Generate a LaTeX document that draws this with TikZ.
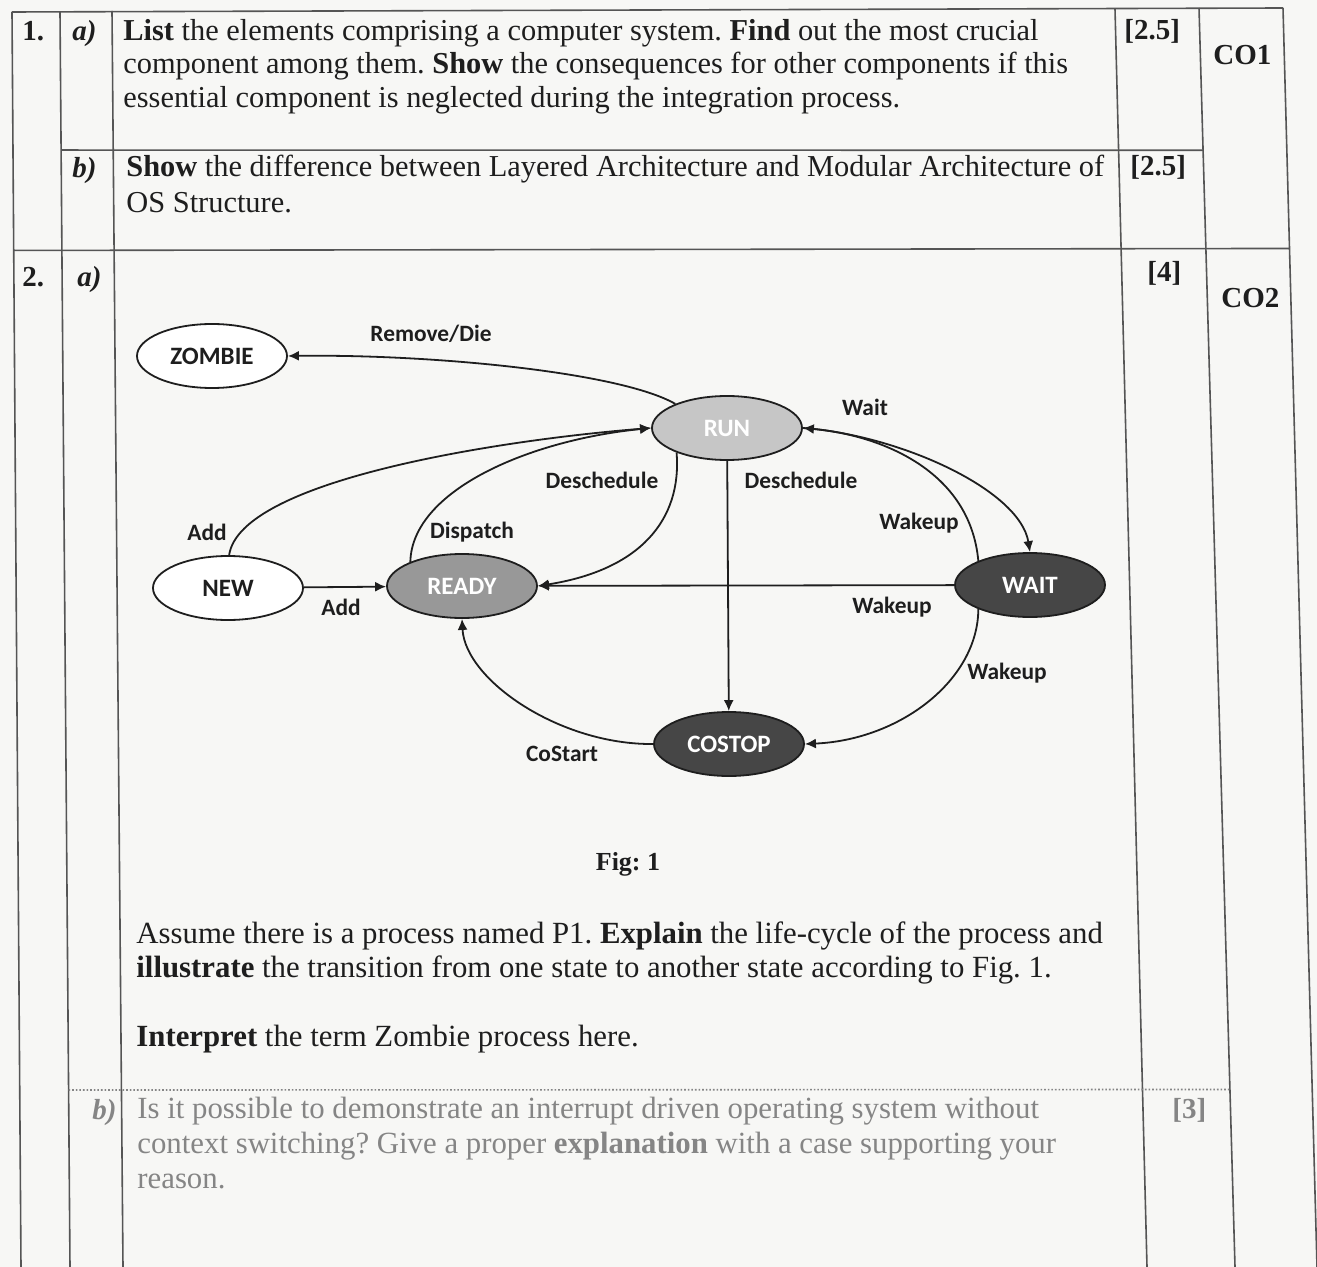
\documentclass[tikz,border=0pt]{standalone}
\usepackage{fontspec}
\setmainfont{Liberation Serif}
\newfontfamily\statefont{Carlito}
\usetikzlibrary{shapes.geometric}
\usetikzlibrary{arrows.meta}
\usetikzlibrary{calc}
\frenchspacing

\definecolor{ink}{HTML}{1E1E1E}
\definecolor{ruleink}{HTML}{555555}
\definecolor{fadedink}{HTML}{858585}
\definecolor{paper}{HTML}{F7F7F5}
\definecolor{runfill}{HTML}{C6C6C6}
\definecolor{readyfill}{HTML}{989898}
\definecolor{darkfill}{HTML}{464646}

\tikzset{
  state/.style={ellipse, draw=ink, line width=0.9pt, minimum width=75pt,
    minimum height=32pt, inner sep=0pt,
    font=\statefont\bfseries\fontsize{12.5}{14}\selectfont},
  trans/.style={draw=ink, line width=0.9pt, -{Latex[length=5.5pt,width=5pt]}},
  lbl/.style={inner sep=0pt, text=ink,
    font=\statefont\bfseries\fontsize{11.7}{13}\selectfont},
  txt/.style={inner sep=0pt, anchor=base west, text=ink,
    font=\fontsize{15.2}{17}\selectfont},
  txtlow/.style={txt, font=\fontsize{15.4}{17}\selectfont},
  num/.style={txt, font=\bfseries\fontsize{14.5}{16.75}\selectfont},
  sub/.style={txt, font=\bfseries\itshape\fontsize{14.5}{16.75}\selectfont},
  gridline/.style={draw=ruleink, line width=0.8pt}
}

\begin{document}
\begin{tikzpicture}[x=0.5pt, y=-0.5pt]
  \fill[paper] (0,0) rectangle (1317,1267);
  \useasboundingbox (0,0) rectangle (1317,1267);

  % table rules (the page is photographed a little askew)
  \coordinate (topL0) at (12,12);   \coordinate (botL0) at (21,1267);
  \coordinate (topL1) at (60,12);   \coordinate (botL1) at (70,1267);
  \coordinate (topL2) at (112,11);  \coordinate (botL2) at (123,1267);
  \coordinate (topL3) at (1115,9);  \coordinate (botL3) at (1147,1267);
  \coordinate (topL4) at (1199,8);  \coordinate (botL4) at (1235,1267);
  \coordinate (topL5) at (1283,8);  \coordinate (botL5) at (1317,1267);
  \foreach \c in {L0,L1,L2,L3,L4,L5}
    \draw[gridline] (top\c) -- (bot\c);
  \draw[gridline] (topL0) -- (topL5);
  \draw[gridline] ($(topL1)!0.110!(botL1)$) -- ($(topL4)!0.113!(botL4)$);
  \draw[gridline] ($(topL0)!0.190!(botL0)$) -- ($(topL5)!0.191!(botL5)$);
  \draw[gridline, draw=fadedink, densely dotted] ($(topL1)!0.859!(botL1)$) -- ($(topL4)!0.859!(botL4)$);

  % question 1
  \node[num] (q1) at (22,41) {1.};
  \node[sub] (q1a) at (72,41) {a)};
  \node[txt] (t1a1) at (123,41) {\textbf{List} the elements comprising a computer system. \textbf{Find} out the most crucial};
  \node[txt] (t1a2) at (123,74) {component among them. \textbf{Show} the consequences for other components if this};
  \node[txt] (t1a3) at (123,108) {essential component is neglected during the integration process.};
  \node[num] (m1a) at (1124,40) {[2.5]};
  \node[num] (co1) at (1213,65) {CO1};
  \node[sub] (q1b) at (72,178) {b)};
  \node[txt] (t1b1) at (126,177) {\textbf{Show} the difference between Layered Architecture and Modular Architecture of};
  \node[txt] (t1b2) at (126,213) {OS Structure.};
  \node[num] (m1b) at (1130,176) {[2.5]};

  % question 2
  \node[num] (q2) at (22,287) {2.};
  \node[sub] (q2a) at (77,287) {a)};
  \node[num] (m2a) at (1147,282) {[4]};
  \node[num] (co2) at (1221,308) {CO2};

  % Fig. 1 : process states
  \node[state, fill=white, text=ink] (zombie) at (212,356) {ZOMBIE};
  \node[state, fill=runfill, text=white] (run) at (727,428) {RUN};
  \node[state, fill=white, text=ink] (new) at (228,588) {NEW};
  \node[state, fill=readyfill, text=white] (ready) at (462,586) {READY};
  \node[state, fill=darkfill, text=white] (wait) at (1030,585) {WAIT};
  \node[state, fill=darkfill, text=white] (costop) at (729,744) {COSTOP};

  \draw[trans] (run.155) .. controls (620,372) and (430,354) .. (zombie.east);
  \draw[trans] (new.88) .. controls (240,480) and (500,440) .. (run.west);
  \draw[trans] (ready.155) .. controls (412,490) and (530,440) .. (run.west);
  \draw[trans] (run.206) .. controls (682,520) and (640,570) .. (ready.east);
  \draw[trans] (run) -- (costop);
  \draw[trans] (run.east) .. controls (900,435) and (1020,490) .. (wait.north);
  \draw[trans] (wait.155) .. controls (970,470) and (880,435) .. (run.east);
  \draw[trans] (wait) -- (ready);
  \draw[trans] (wait.205) .. controls (978,680) and (900,740) .. (costop.east);
  \draw[trans] (costop.west) .. controls (560,745) and (465,680) .. (ready.south);
  \draw[trans] (new) -- (ready);

  \node[lbl] (lRemove) at (431,334) {Remove/Die};
  \node[lbl] (lAddUp) at (207,532) {Add};
  \node[lbl] (lDispatch) at (472,532) {Dispatch};
  \node[lbl] (lDeschedReady) at (602,480) {Deschedule};
  \node[lbl] (lDeschedCostop) at (801,480) {Deschedule};
  \node[lbl] (lWait) at (865,407) {Wait};
  \node[lbl] (lWakeRun) at (919,523) {Wakeup};
  \node[lbl] (lWakeReady) at (892,607) {Wakeup};
  \node[lbl] (lWakeCostop) at (1007,673) {Wakeup};
  \node[lbl] (lAdd) at (341,607) {Add};
  \node[lbl] (lCoStart) at (562,754) {CoStart};

  \node[num, anchor=base, font=\bfseries\fontsize{13}{15}\selectfont] (fig) at (628,870) {Fig: 1};
  \node[txtlow] (t2a1) at (136,943) {Assume there is a process named P1. \textbf{Explain} the life-cycle of the process and};
  \node[txtlow] (t2a2) at (136,977) {\textbf{illustrate} the transition from one state to another state according to Fig. 1.};
  \node[txtlow] (t2a3) at (136,1046) {\textbf{Interpret} the term Zombie process here.};

  \node[sub, text=fadedink] (q2b) at (92,1119) {b)};
  \node[txtlow, text=fadedink] (t2b1) at (137,1118) {Is it possible to demonstrate an interrupt driven operating system without};
  \node[txtlow, text=fadedink] (t2b2) at (137,1153) {context switching? Give a proper \textbf{explanation} with a case supporting your};
  \node[txtlow, text=fadedink] (t2b3) at (137,1188) {reason.};
  \node[num, text=fadedink] (m2b) at (1172,1118) {[3]};
\end{tikzpicture}
\end{document}
